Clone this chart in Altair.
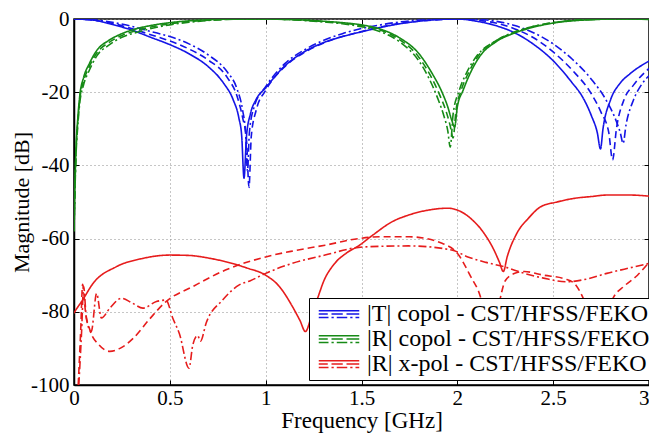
import altair as alt
import pandas as pd

# ---------------- |T| copol ----------------
T_CST_f = [0, 0.1, 0.2, 0.3, 0.4, 0.5, 0.6, 0.7, 0.78, 0.83, 0.86, 0.875, 0.887, 0.9, 0.92, 0.95, 1.0, 1.1, 1.2, 1.3, 1.4, 1.5, 1.6, 1.7, 1.8, 1.9, 2.0, 2.1, 2.2, 2.3, 2.4, 2.5, 2.6, 2.65, 2.7, 2.73, 2.747, 2.76, 2.8, 2.85, 2.9, 3.0]
T_CST_db = [0, -0.3, -1.5, -3.0, -5.0, -7.0, -9.5, -13.0, -17.5, -22, -27, -32, -43.5, -32, -26, -22, -18.8, -12.8, -9, -6.5, -4.8, -3.5, -2.3, -1.3, -0.6, -0.15, 0, -0.6, -1.8, -3.8, -7.0, -11.4, -17.5, -21, -26.5, -31, -35.5, -30, -22, -17.5, -15, -11.5]

T_HFSS_f = [0, 0.1, 0.2, 0.3, 0.4, 0.5, 0.6, 0.7, 0.8, 0.85, 0.88, 0.9, 0.913, 0.925, 0.95, 1.0, 1.1, 1.2, 1.3, 1.4, 1.5, 1.6, 1.7, 1.8, 1.9, 2.0, 2.1, 2.2, 2.3, 2.4, 2.5, 2.6, 2.7, 2.75, 2.79, 2.81, 2.83, 2.87, 2.92, 3.0]
T_HFSS_db = [0, -0.3, -1.2, -2.6, -4.3, -6.0, -8.2, -11.2, -16, -21, -27, -33, -46, -32, -25, -19.5, -13, -9.2, -6.6, -4.8, -3.4, -2.2, -1.2, -0.6, -0.2, 0, -0.3, -1.1, -2.7, -5.2, -9.0, -14, -20.5, -25.5, -31, -38.5, -30, -22, -18, -13.5]

T_FEKO_f = [0, 0.1, 0.2, 0.3, 0.4, 0.5, 0.6, 0.7, 0.8, 0.85, 0.88, 0.895, 0.905, 0.915, 0.94, 1.0, 1.1, 1.2, 1.3, 1.4, 1.5, 1.6, 1.7, 1.8, 1.9, 2.0, 2.1, 2.2, 2.3, 2.4, 2.5, 2.6, 2.7, 2.78, 2.83, 2.85, 2.865, 2.88, 2.92, 2.96, 3.0]
T_FEKO_db = [0, -0.2, -0.9, -2.0, -3.4, -4.8, -6.8, -9.8, -14.5, -19, -25, -31, -41.5, -31, -24, -18.5, -12.2, -8.5, -5.9, -4.0, -2.6, -1.6, -0.8, -0.3, -0.1, 0, -0.1, -0.6, -1.8, -3.8, -6.8, -11, -16.5, -22.5, -28, -31, -34, -29, -22, -18, -15.5]

# ---------------- |R| copol ----------------
R_CST_f = [0, 0.005, 0.01, 0.02, 0.03, 0.05, 0.08, 0.12, 0.18, 0.25, 0.33, 0.42, 0.5, 0.6, 0.7, 0.8, 0.9, 1.0, 1.1, 1.2, 1.3, 1.4, 1.5, 1.6, 1.7, 1.8, 1.87, 1.92, 1.95, 1.97, 1.986, 2.0, 2.03, 2.07, 2.12, 2.2, 2.3, 2.4, 2.5, 2.6, 2.7, 2.8, 2.9, 3.0]
R_CST_db = [-58, -45, -36, -27, -21, -16, -12.2, -8.5, -5.9, -4.0, -2.6, -1.6, -1.0, -0.5, -0.2, -0.05, 0, 0, -0.1, -0.3, -0.6, -1.0, -1.6, -2.8, -5.2, -9.5, -15, -20, -24, -27.5, -29.5, -24, -19.5, -14.5, -10, -6.3, -3.8, -2.2, -1.1, -0.5, -0.2, 0, 0, -0.1]

R_HFSS_f = [0, 0.005, 0.01, 0.02, 0.03, 0.05, 0.08, 0.12, 0.18, 0.25, 0.33, 0.42, 0.5, 0.6, 0.7, 0.8, 0.9, 1.0, 1.1, 1.2, 1.3, 1.4, 1.5, 1.6, 1.7, 1.8, 1.86, 1.91, 1.94, 1.962, 1.978, 1.993, 2.02, 2.06, 2.11, 2.2, 2.3, 2.4, 2.5, 2.6, 2.7, 2.8, 2.9, 3.0]
R_HFSS_db = [-58, -46, -37, -28, -22, -17, -13, -9.2, -6.5, -4.5, -3.1, -2.0, -1.3, -0.7, -0.3, -0.1, 0, 0, -0.1, -0.3, -0.7, -1.1, -1.8, -3.1, -5.7, -10.5, -15.5, -21, -25, -29, -32.5, -25, -19.5, -14.5, -10, -6.0, -3.6, -2.0, -1.0, -0.4, -0.1, 0, 0, -0.1]

R_FEKO_f = [0, 0.005, 0.01, 0.02, 0.03, 0.05, 0.08, 0.12, 0.18, 0.25, 0.33, 0.42, 0.5, 0.6, 0.7, 0.8, 0.9, 1.0, 1.1, 1.2, 1.3, 1.4, 1.5, 1.6, 1.7, 1.8, 1.85, 1.9, 1.93, 1.95, 1.963, 1.978, 2.01, 2.05, 2.1, 2.2, 2.3, 2.4, 2.5, 2.6, 2.7, 2.8, 2.9, 3.0]
R_FEKO_db = [-58, -47, -38, -29, -23, -18, -14, -10, -7.2, -5.0, -3.6, -2.4, -1.6, -0.9, -0.4, -0.1, 0, 0, -0.1, -0.4, -0.8, -1.3, -2.1, -3.5, -6.3, -11.5, -16, -22, -26.5, -30.5, -35, -26, -19.5, -14.5, -10.2, -6.0, -3.5, -2.0, -1.0, -0.4, -0.1, 0, 0, -0.1]

# ---------------- |R| x-pol ----------------
X_CST_f = [0, 0.005, 0.04, 0.1, 0.22, 0.36, 0.5, 0.6, 0.7, 0.79, 0.9, 1.0, 1.07, 1.14, 1.18, 1.207, 1.24, 1.277, 1.3, 1.36, 1.42, 1.484, 1.56, 1.656, 1.75, 1.85, 1.95, 2.0, 2.07, 2.14, 2.19, 2.22, 2.24, 2.26, 2.31, 2.37, 2.435, 2.52, 2.61, 2.7, 2.78, 2.9, 3.0]
X_CST_db = [-80.4, -79.9, -77.2, -72.2, -67.7, -65.4, -64.5, -64.6, -65.3, -66.3, -68, -70, -73, -78.6, -82.5, -85.4, -81, -75.4, -72, -66.8, -64, -62, -59, -55.5, -53.5, -52.2, -51.7, -52.2, -54.5, -58.6, -63, -66.5, -69, -65, -58.6, -54.5, -51.3, -50, -49, -48.5, -48.1, -48.1, -48.4]

X_HFSS_f = [0.022, 0.035, 0.045, 0.06, 0.083, 0.13, 0.187, 0.24, 0.31, 0.394, 0.48, 0.62, 0.79, 1.0, 1.15, 1.31, 1.484, 1.6, 1.75, 1.92, 2.0, 2.07, 2.12, 2.15, 2.18, 2.21, 2.23, 2.25, 2.3, 2.35, 2.45, 2.56, 2.61, 2.64, 2.68, 2.73, 2.78, 2.816, 2.87, 2.94, 3.0]
X_HFSS_db = [-100, -85, -72.5, -80, -85, -89, -90.8, -90, -87.2, -82, -77.2, -73.1, -68.6, -65, -63.3, -61.8, -60, -59.5, -59.5, -61.3, -64, -70.4, -75.8, -82, -86, -80, -74.9, -71.5, -69.5, -69, -70, -71, -72.2, -74.5, -79, -84, -80, -75.9, -73, -70, -66.5]

X_FEKO_f = [0.025, 0.04, 0.05, 0.065, 0.09, 0.118, 0.143, 0.187, 0.247, 0.3, 0.36, 0.43, 0.48, 0.515, 0.55, 0.6, 0.62, 0.645, 0.66, 0.69, 0.775, 0.86, 0.92, 1.0, 1.137, 1.31, 1.484, 1.6, 1.745, 1.97, 2.055, 2.15, 2.245, 2.35, 2.45, 2.57, 2.68, 2.78, 2.9, 3.0]
X_FEKO_db = [-100, -85, -73, -82, -85.4, -75, -81.7, -79, -76.3, -77.5, -79, -77.2, -76.8, -81.7, -86, -95.4, -89, -86.5, -88, -83, -76.8, -72.7, -71.5, -69.5, -66.8, -64.5, -62.4, -62.1, -62, -63.1, -65, -66.5, -67.7, -69.5, -70.8, -71.8, -71, -69.5, -68, -66.8]

GROUPS = ["|T| copol - CST/HFSS/FEKO", "|R| copol - CST/HFSS/FEKO", "|R| x-pol - CST/HFSS/FEKO"]
SOLVERS = ["CST", "HFSS", "FEKO"]
COLORS = ["#1414e6", "#168a16", "#e61c1c"]

series = [
    (GROUPS[0], "CST", T_CST_f, T_CST_db),
    (GROUPS[0], "HFSS", T_HFSS_f, T_HFSS_db),
    (GROUPS[0], "FEKO", T_FEKO_f, T_FEKO_db),
    (GROUPS[1], "CST", R_CST_f, R_CST_db),
    (GROUPS[1], "HFSS", R_HFSS_f, R_HFSS_db),
    (GROUPS[1], "FEKO", R_FEKO_f, R_FEKO_db),
    (GROUPS[2], "CST", X_CST_f, X_CST_db),
    (GROUPS[2], "HFSS", X_HFSS_f, X_HFSS_db),
    (GROUPS[2], "FEKO", X_FEKO_f, X_FEKO_db),
]
rows = []
for g, s, fs, ds in series:
    for i, (f, d) in enumerate(zip(fs, ds)):
        rows.append({"group": g, "solver": s, "f": f, "db": d, "order": i})
df = pd.DataFrame(rows)

X_TICKS = [0, 0.5, 1, 1.5, 2, 2.5, 3]
Y_TICKS = [0, -20, -40, -60, -80, -100]

FONT = "Times New Roman"
W, H = 575, 366

# legend symbol: solid, dashed and dash-dot strokes stacked
SYM = ("M-2.7,-0.45H2.7 "
       "M-2.7,0H-1.5M-1.0,0H0.5M1.0,0H2.7 "
       "M-2.7,0.45H-1.4M-1.0,0.45H-0.7M-0.3,0.45H1.1M1.5,0.45H1.8M2.2,0.45H2.7")

xscale = alt.Scale(domain=[0, 3], nice=False, zero=False)
yscale = alt.Scale(domain=[-100, 0], nice=False, zero=False)

base = alt.Chart(df)

lines = base.mark_line(strokeWidth=1.6, interpolate="monotone", clip=True).encode(
    x=alt.X("f:Q", scale=xscale,
            axis=alt.Axis(values=X_TICKS, title="Frequency [GHz]", labelExpr="'' + datum.value",
                          labelFont=FONT, titleFont=FONT, labelFontSize=21, titleFontSize=23,
                          labelPadding=2, titlePadding=1,
                          labelAlign={"condition": {"test": "datum.value == 3", "value": "right"},
                                      "value": "center"})),
    y=alt.Y("db:Q", scale=yscale,
            axis=alt.Axis(values=Y_TICKS, title="Magnitude [dB]", labelExpr="'' + datum.value",
                          labelFont=FONT, titleFont=FONT, labelFontSize=21, titleFontSize=22,
                          labelPadding=5, titlePadding=-3)),
    color=alt.Color("group:N", scale=alt.Scale(domain=GROUPS, range=COLORS), sort=GROUPS,
                    legend=alt.Legend(title=None, orient="none", legendX=235, legendY=279,
                                      symbolType=SYM, symbolSize=225, symbolStrokeWidth=1.5,
                                      symbolOffset=14, labelOffset=16, labelLimit=500,
                                      labelFont=FONT, labelFontSize=24, labelColor="black",
                                      rowPadding=1, padding=4, fillColor="white",
                                      strokeColor="black")),
    strokeDash=alt.StrokeDash("solver:N", scale=alt.Scale(domain=SOLVERS, range=[[1, 0], [7, 4], [8, 3, 2, 3]]),
                              legend=None),
    order="order:Q",
)

# invisible layers that only carry inward-pointing tick marks on all four sides
tick_axis = dict(labels=False, grid=False, domain=False, tickSize=5, tickColor="black", tickWidth=1, title=None)
ticks_a = base.mark_line(opacity=0).encode(
    x=alt.X("f:Q", scale=xscale, axis=alt.Axis(orient="top", offset=-H, values=X_TICKS, **tick_axis)),
    y=alt.Y("db:Q", scale=yscale, axis=alt.Axis(orient="right", offset=-W, values=Y_TICKS, **tick_axis)),
)
ticks_b = base.mark_line(opacity=0).encode(
    x=alt.X("f:Q", scale=xscale, axis=alt.Axis(orient="bottom", offset=-H, values=X_TICKS, **tick_axis)),
    y=alt.Y("db:Q", scale=yscale, axis=alt.Axis(orient="left", offset=-W, values=Y_TICKS, **tick_axis)),
)

chart = alt.layer(lines, ticks_a, ticks_b).resolve_axis(
    x="independent", y="independent"
).properties(
    width=W, height=H,
    autosize=alt.AutoSizeParams(type="none"),
    padding={"left": 66, "top": 11, "right": 0, "bottom": 48},
).configure_view(
    stroke="black", strokeWidth=1.5
).configure_axis(
    labelFont=FONT, titleFont=FONT, labelFontSize=21, titleFontSize=23,
    labelColor="black", titleColor="black", titleFontWeight="normal",
    domainColor="black", domainWidth=1.5, tickSize=0,
    gridColor="#8c8c8c", gridDash=[1, 3], gridWidth=1,
)

chart.save("out.html", embed_options={"renderer": "svg", "actions": False})
